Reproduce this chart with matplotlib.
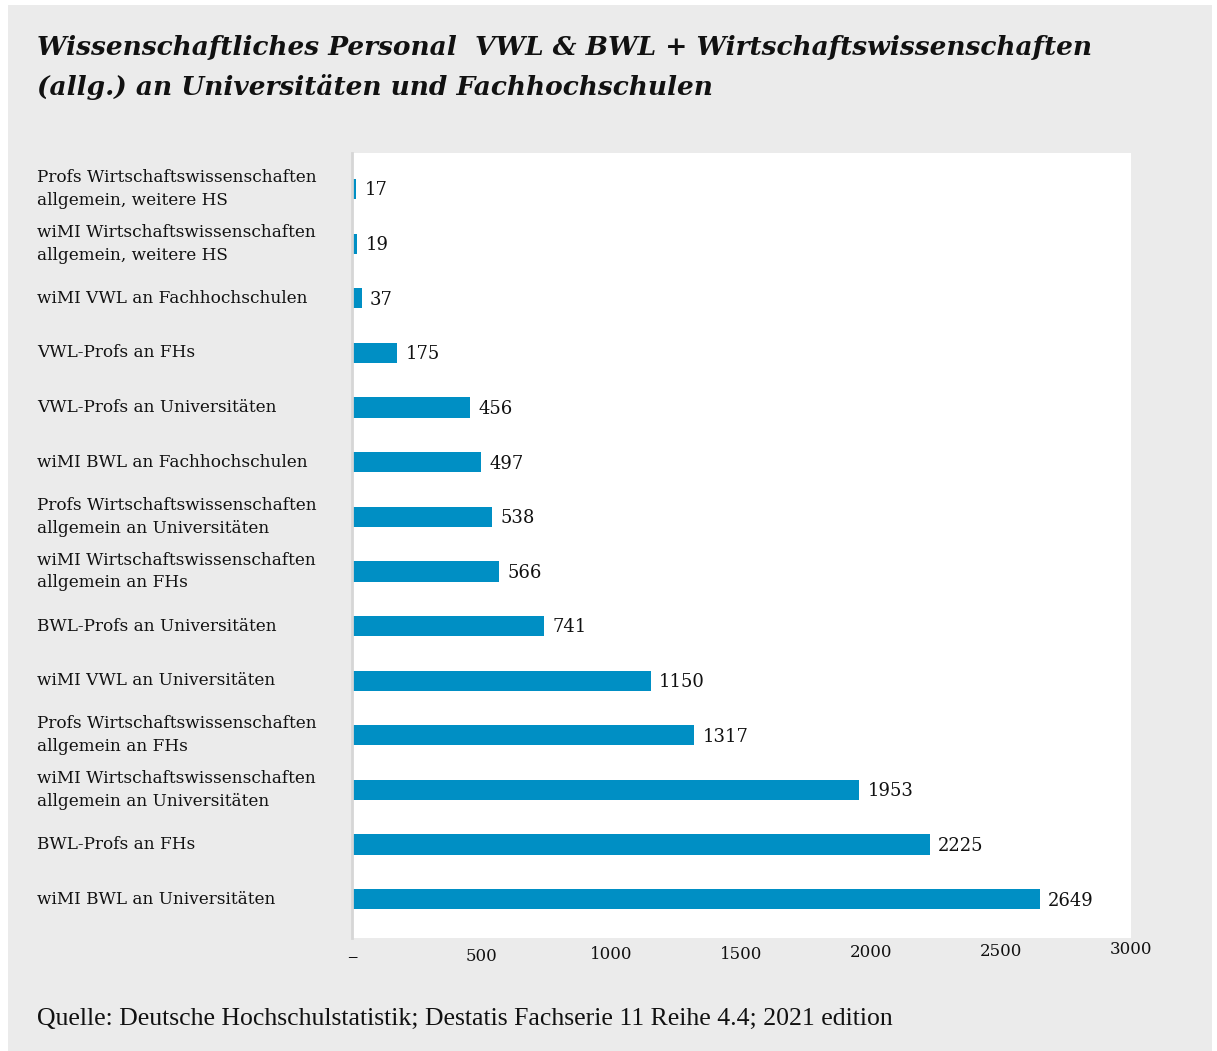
import matplotlib.pyplot as plt
import matplotlib.transforms as mtransforms
from matplotlib.patches import Rectangle

# datos (de arriba hacia abajo)
kategorien = [
    'Profs Wirtschaftswissenschaften\nallgemein, weitere HS',
    'wiMI Wirtschaftswissenschaften\nallgemein, weitere HS',
    'wiMI VWL an Fachhochschulen',
    'VWL-Profs an FHs',
    'VWL-Profs an Universitäten',
    'wiMI BWL an Fachhochschulen',
    'Profs Wirtschaftswissenschaften\nallgemein an Universitäten',
    'wiMI Wirtschaftswissenschaften\nallgemein an FHs',
    'BWL-Profs an Universitäten',
    'wiMI VWL an Universitäten',
    'Profs Wirtschaftswissenschaften\nallgemein an FHs',
    'wiMI Wirtschaftswissenschaften\nallgemein an Universitäten',
    'BWL-Profs an FHs',
    'wiMI BWL an Universitäten',
]
werte = [17, 19, 37, 175, 456, 497, 538, 566, 741, 1150, 1317, 1953, 2225, 2649]
x_ticks = [0, 500, 1000, 1500, 2000, 2500, 3000]
x_tick_labels = ['–', '500', '1000', '1500', '2000', '2500', '3000']

azul = '#008fc4'
gris = '#ebebeb'
serif = ['DejaVu Serif']

fig = plt.figure(figsize=(12.17, 10.51), dpi=100, facecolor='white')
# fondo gris con borde blanco
fig.patches.append(Rectangle((8 / 1217, 0), 1204 / 1217, 1 - 5 / 1051,
                             transform=fig.transFigure, facecolor=gris,
                             edgecolor='none', zorder=-10))

ax = fig.add_axes([352 / 1217, 1 - 938 / 1051, 779 / 1217, 785 / 1051])
ax.set_facecolor('white')

pos = list(range(len(werte)))
ax.barh(pos, werte, height=0.37, color=azul)
ax.set_xlim(0, 3000)
ax.set_ylim(13.71, -0.66)

for p, v in zip(pos, werte):
    ax.annotate(str(v), (v, p), xytext=(6, -1), textcoords='offset points',
                va='center', ha='left', fontsize=13, family=serif, color='#111111')

# etiquetas de categorias alineadas a la izquierda
trans = mtransforms.blended_transform_factory(fig.transFigure, ax.transData)
ax.set_yticks([])
for p, k in zip(pos, kategorien):
    ax.text(37 / 1217, p, k, transform=trans, ha='left', va='center',
            fontsize=12.2, family=serif, color='#111111', linespacing=1.45)

ax.set_xticks(x_ticks)
ax.set_xticklabels(x_tick_labels, fontsize=12, family=serif, color='#111111')
ax.tick_params(axis='x', length=0, pad=7)
# las etiquetas del eje x suben un poco hacia la derecha
desplaz = [0, 0, 2, 2, 4, 5, 7]
for lab, d in zip(ax.get_xticklabels(), desplaz):
    lab.set_transform(lab.get_transform() + mtransforms.ScaledTranslation(0, d / 100, fig.dpi_scale_trans))
ax.get_xticklabels()[0].set_fontsize(15)

for s in ['top', 'right', 'bottom']:
    ax.spines[s].set_visible(False)
ax.spines['left'].set_color('#d6d6d6')
ax.spines['left'].set_linewidth(2)

fig.text(37 / 1217, 1 - 48 / 1051,
         'Wissenschaftliches Personal  VWL & BWL + Wirtschaftswissenschaften',
         fontsize=19, fontweight='bold', style='italic', family=serif,
         va='center', ha='left', color='#111111')
fig.text(37 / 1217, 1 - 87 / 1051,
         '(allg.) an Universitäten und Fachhochschulen',
         fontsize=19, fontweight='bold', style='italic', family=serif,
         va='center', ha='left', color='#111111')

fig.text(37 / 1217, 1 - 1019 / 1051,
         'Quelle: Deutsche Hochschulstatistik; Destatis Fachserie 11 Reihe 4.4; 2021 edition',
         fontsize=18.5, family=['Liberation Serif'], va='center', ha='left', color='#111111')

fig.savefig('out.png', dpi=100, facecolor=fig.get_facecolor())
